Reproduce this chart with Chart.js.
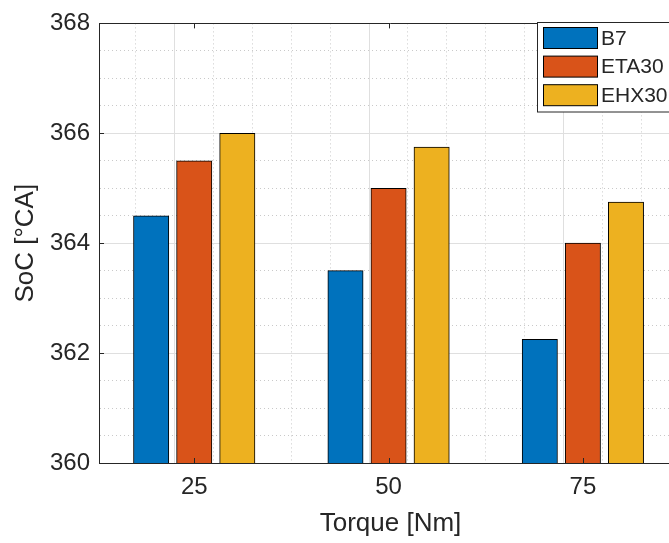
<!DOCTYPE html>
<html>
<head>
<meta charset="utf-8">
<script src="https://cdn.jsdelivr.net/npm/chart.js@4/dist/chart.umd.min.js"></script>
<style>
  html, body { margin: 0; padding: 0; background: #fff; overflow: hidden; }
  canvas { display: block; }
</style>
</head>
<body>
<canvas id="c" width="700" height="543"></canvas>
<script>
// Torque levels and SoC per fuel
const categories = ['25', '50', '75'];
const torqueValues = [25, 50, 75];
const seriesNames = ['B7', 'ETA30', 'EHX30'];
const b7 = [364.5, 363.5, 362.25];
const eta30 = [365.5, 365.0, 364.0];
const ehx30 = [366.0, 365.75, 364.75];
const seriesColors = ['#0072BD', '#D95319', '#EDB120'];

// axis ranges and tick positions
const yMin = 360, yMax = 368, yMinorStep = 0.5;
const yMajorTicks = [360, 362, 364, 366, 368];
const xRange = [12.75, 87.75];
const xMinorTicks = [15, 20, 25, 30, 35, 40, 45, 50, 55, 60, 65, 70, 75, 80, 85];

const AXIS_COLOR = '#262626';
const GRID_MAJOR = '#dfdfdf';
const GRID_MINOR = '#c9c9c9';
const FONT = "'Liberation Sans', Arial, Helvetica, sans-serif";

const tickVal = ctx => (ctx && ctx.tick) ? ctx.tick.value : NaN;
const dashFor = majors => ctx => (ctx && ctx.tick && !majors.includes(ctx.tick.value)) ? [1, 3] : [];

// inward tick marks, top border and the legend box
const decorations = {
  id: 'decorations',
  afterDatasetsDraw(chart) {
    const ctx = chart.ctx;
    const a = chart.chartArea;
    const x = chart.scales.x;
    const y = chart.scales.y;
    const len = 5;
    ctx.save();
    ctx.strokeStyle = AXIS_COLOR;
    ctx.lineWidth = 1;
    ctx.setLineDash([]);
    ctx.beginPath();
    torqueValues.forEach(v => {
      const px = Math.round(x.getPixelForValue(v)) + 0.5;
      ctx.moveTo(px, a.bottom); ctx.lineTo(px, a.bottom - len);
      ctx.moveTo(px, a.top); ctx.lineTo(px, a.top + len);
    });
    yMajorTicks.forEach(v => {
      const py = Math.round(y.getPixelForValue(v)) + 0.5;
      ctx.moveTo(a.left, py); ctx.lineTo(a.left + len, py);
    });
    // top edge of the axes box
    ctx.moveTo(a.left, Math.round(a.top) + 0.5);
    ctx.lineTo(a.right, Math.round(a.top) + 0.5);
    ctx.stroke();

    // legend
    const lx = 537.5, ly = 22.5, lw = 160, lh = 89.5;
    ctx.fillStyle = '#ffffff';
    ctx.fillRect(lx, ly, lw, lh);
    ctx.strokeStyle = AXIS_COLOR;
    ctx.strokeRect(lx, ly, lw, lh);
    ctx.font = '21px ' + FONT;
    ctx.textBaseline = 'middle';
    ctx.textAlign = 'left';
    chart.data.datasets.forEach((ds, i) => {
      const sy = 27.5 + i * 28.6;
      ctx.fillStyle = ds.backgroundColor;
      ctx.fillRect(543.5, sy, 54, 21);
      ctx.strokeStyle = '#000';
      ctx.strokeRect(543.5, sy, 54, 21);
      ctx.fillStyle = AXIS_COLOR;
      ctx.fillText(ds.label, 601, sy + 11.5);
    });
    ctx.restore();
  }
};

const datasets = [b7, eta30, ehx30].map((vals, i) => ({
  label: seriesNames[i],
  data: torqueValues.map((t, k) => ({ x: t, y: vals[k] })),
  backgroundColor: seriesColors[i],
  borderColor: '#000000',
  borderWidth: 1,
  borderSkipped: false,
  barThickness: 'flex',
  categoryPercentage: 0.665,
  barPercentage: 0.82
}));

new Chart(document.getElementById('c'), {
  type: 'bar',
  data: { datasets },
  options: {
    responsive: false,
    animation: false,
    devicePixelRatio: 1,
    layout: { padding: { top: 21, right: 18, left: 0, bottom: 0 } },
    plugins: { legend: { display: false }, tooltip: { enabled: false } },
    scales: {
      x: {
        type: 'linear',
        position: 'bottom',
        offset: false,
        min: xRange[0],
        max: xRange[1],
        afterBuildTicks(s) { s.ticks = xMinorTicks.map(v => ({ value: v })); },
        ticks: {
          autoSkip: false,
          maxRotation: 0,
          color: AXIS_COLOR,
          font: { family: FONT, size: 24 },
          padding: 10,
          callback: v => { const k = torqueValues.indexOf(v); return k >= 0 ? categories[k] : ''; }
        },
        grid: {
          drawTicks: false,
          color: ctx => torqueValues.includes(tickVal(ctx)) ? GRID_MAJOR : GRID_MINOR,
          lineWidth: 1
        },
        border: { display: true, color: AXIS_COLOR, width: 1, dash: dashFor(torqueValues) },
        title: { display: true, text: 'Torque [Nm]', color: AXIS_COLOR,
                 font: { family: FONT, size: 26 }, padding: { top: 0, bottom: 4 } },
        afterFit(s) { s.height = 80; }
      },
      y: {
        type: 'linear',
        position: 'left',
        min: yMin,
        max: yMax,
        afterBuildTicks(s) {
          const t = [];
          for (let v = yMin; v <= yMax + 1e-9; v += yMinorStep) t.push({ value: v });
          s.ticks = t;
        },
        ticks: {
          autoSkip: false,
          color: AXIS_COLOR,
          font: { family: FONT, size: 24 },
          padding: 9,
          callback: v => yMajorTicks.includes(v) ? String(v) : ''
        },
        grid: {
          drawTicks: false,
          color: ctx => yMajorTicks.includes(tickVal(ctx)) ? GRID_MAJOR : GRID_MINOR,
          lineWidth: 1
        },
        border: { display: true, color: AXIS_COLOR, width: 1, dash: dashFor(yMajorTicks) },
        title: { display: true, text: 'SoC [°CA]', color: AXIS_COLOR,
                 font: { family: FONT, size: 26 }, padding: { top: 10, bottom: 0 } },
        afterFit(s) { s.width = 99; }
      }
    }
  },
  plugins: [decorations]
});
</script>
</body>
</html>
